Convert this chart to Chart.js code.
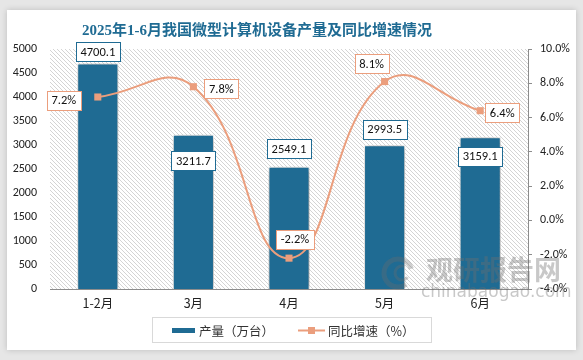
<!DOCTYPE html>
<html>
<head>
<meta charset="utf-8">
<script src="https://cdn.jsdelivr.net/npm/chart.js@4.4.1/dist/chart.umd.min.js"></script>
<style>
html,body{margin:0;padding:0;}
body{width:583px;height:360px;background:#e6e6e6;position:relative;overflow:hidden;}
#card{position:absolute;left:7px;top:10px;width:569px;height:340px;background:#fff;box-shadow:0 0 6px rgba(0,0,0,0.18);}
#c{position:absolute;left:0;top:0;}
</style>
</head>
<body>
<div id="card"></div>
<canvas id="c" width="583" height="360"></canvas>
<script>
// ---- data ----
const title = '2025年1-6月我国微型计算机设备产量及同比增速情况';
const categories = ['1-2月', '3月', '4月', '5月', '6月'];
const production = [4700.1, 3211.7, 2549.1, 2993.5, 3159.1];
const growth = [7.2, 7.8, -2.2, 8.1, 6.4];
const seriesNames = ['产量（万台）', '同比增速（%）'];

const BLUE = '#1f6b93';
const ORANGE = '#eb9e7d';
const FONT = "Carlito, 'Liberation Sans', Arial, sans-serif";
const CJK = "'Noto Sans CJK SC', 'Liberation Sans', sans-serif";

function hatchPattern(ctx) {
  const t = document.createElement('canvas');
  t.width = 4; t.height = 4;
  const g = t.getContext('2d');
  g.strokeStyle = '#d4d4d4';
  g.lineWidth = 1;
  g.beginPath();
  g.moveTo(-1, -1); g.lineTo(5, 5);
  g.moveTo(-1, 3); g.lineTo(1, 5);
  g.moveTo(3, -1); g.lineTo(5, 1);
  g.stroke();
  return ctx.createPattern(t, 'repeat');
}

function drawBox(ctx, text, cx, cy, color) {
  ctx.save();
  ctx.font = '12.5px ' + FONT;
  const w = Math.round(ctx.measureText(text).width + 9);
  const h = 19;
  const x = Math.round(cx - w / 2) + 0.5, y = Math.round(cy - h / 2) + 0.5;
  ctx.fillStyle = '#fff';
  ctx.fillRect(x, y, w, h);
  ctx.strokeStyle = color;
  ctx.lineWidth = 1;
  ctx.strokeRect(x, y, w, h);
  ctx.fillStyle = '#111';
  ctx.textAlign = 'center';
  ctx.textBaseline = 'middle';
  ctx.fillText(text, cx, cy + 1);
  ctx.restore();
}

const decor = {
  id: 'decor',
  beforeDatasetsDraw(chart) {
    const {ctx, chartArea: a} = chart;
    ctx.save();
    ctx.fillStyle = hatchPattern(ctx);
    ctx.fillRect(a.left, a.top, a.right - a.left, a.bottom - a.top);
    ctx.restore();
  },
  beforeDatasetDraw(chart, args) {
    const ctx = chart.ctx;
    ctx.save();
    if (args.index === 0) {
      ctx.shadowColor = 'rgba(0,0,0,0.45)';
      ctx.shadowBlur = 7;
      ctx.shadowOffsetX = 1;
      ctx.shadowOffsetY = 1;
    }
  },
  afterDatasetDraw(chart) {
    chart.ctx.restore();
  },
  afterDatasetsDraw(chart, args, opts) {
    const ctx = chart.ctx;
    const bars = chart.getDatasetMeta(0).data;
    bars.forEach((el, i) => {
      drawBox(ctx, production[i].toFixed(1), el.x, el.y + opts.barDy[i], BLUE);
    });
    const pts = chart.getDatasetMeta(1).data;
    pts.forEach((el, i) => {
      drawBox(ctx, growth[i].toFixed(1) + '%', el.x + opts.lineD[i][0], el.y + opts.lineD[i][1], ORANGE);
    });
  },
  afterDraw(chart) {
    const ctx = chart.ctx;
    ctx.save();
    // watermark
    ctx.fillStyle = 'rgba(110,110,110,0.38)';
    ctx.font = "bold 27px 'Noto Sans CJK SC', sans-serif";
    ctx.textBaseline = 'alphabetic';
    ctx.textAlign = 'left';
    ctx.fillText('观研报告网', 426, 280);
    ctx.font = "17px 'DejaVu Sans', sans-serif";
    ctx.fillText('chinabaogao.com', 421, 297);
    ctx.strokeStyle = 'rgba(110,110,110,0.33)';
    ctx.lineWidth = 5;
    ctx.beginPath(); ctx.arc(398, 273, 14, Math.PI * 0.3, Math.PI * 1.9); ctx.stroke();
    ctx.lineWidth = 3;
    ctx.beginPath(); ctx.arc(402, 273, 7, Math.PI * 0.2, Math.PI * 1.6); ctx.stroke();
    // title
    ctx.fillStyle = BLUE;
    ctx.font = "bold 15px 'Liberation Serif', 'Noto Sans CJK SC', serif";
    ctx.textAlign = 'center';
    ctx.textBaseline = 'middle';
    ctx.fillText(title, 257, 31);
    // legend
    ctx.strokeStyle = '#d9d9d9';
    ctx.lineWidth = 1;
    ctx.strokeRect(152.5, 317.5, 279, 25);
    ctx.fillStyle = BLUE;
    ctx.fillRect(172, 328, 23, 5);
    ctx.font = '12.5px ' + CJK;
    ctx.fillStyle = '#333';
    ctx.textAlign = 'left';
    ctx.fillText(seriesNames[0], 199, 331);
    ctx.strokeStyle = ORANGE;
    ctx.lineWidth = 2;
    ctx.beginPath(); ctx.moveTo(298, 330.5); ctx.lineTo(325, 330.5); ctx.stroke();
    ctx.fillStyle = ORANGE;
    ctx.fillRect(308, 327, 7, 7);
    ctx.fillStyle = '#333';
    ctx.fillText(seriesNames[1], 328, 331);
    ctx.restore();
  }
};

new Chart(document.getElementById('c'), {
  data: {
    labels: categories,
    datasets: [
      {
        type: 'bar',
        label: seriesNames[0],
        data: production,
        yAxisID: 'y',
        backgroundColor: BLUE,
        borderColor: '#ffffff',
        borderWidth: 1,
        barPercentage: 0.86,
        categoryPercentage: 0.5,
        order: 2
      },
      {
        type: 'line',
        label: seriesNames[1],
        data: growth,
        yAxisID: 'y2',
        borderColor: ORANGE,
        borderWidth: 2,
        backgroundColor: ORANGE,
        pointStyle: 'rect',
        pointRadius: 5,
        pointBorderWidth: 0,
        tension: 0.45,
        order: 1
      }
    ]
  },
  options: {
    responsive: false,
    animation: false,
    layout: {padding: {top: 49, left: 0, right: 0, bottom: 0}},
    plugins: {
      legend: {display: false},
      title: {display: false},
      tooltip: {enabled: false},
      decor: {
        barDy: [-12, 26, -18, -16, 19],
        lineD: [[-34, 3], [28, 2], [6, -19], [-13, -18], [22, 2]]
      }
    },
    scales: {
      x: {
        grid: {display: false, drawTicks: false},
        border: {display: true, color: '#8c8c8c', width: 1},
        ticks: {color: '#222', font: {size: 12.5, family: CJK}, padding: 7},
        afterFit(s) { s.height = 71; }
      },
      y: {
        position: 'left',
        min: 0, max: 5000,
        grid: {display: false, drawTicks: false},
        border: {display: false},
        ticks: {stepSize: 500, color: '#222', font: {size: 12, family: FONT}, padding: 13,
          callback: v => String(v)},
        afterFit(s) { s.width = 50; }
      },
      y2: {
        position: 'right',
        min: -4, max: 10,
        grid: {display: true, drawOnChartArea: false, tickLength: 4, color: '#8c8c8c'},
        border: {display: true, color: '#8c8c8c', width: 1},
        ticks: {stepSize: 2, color: '#222', font: {size: 12, family: FONT}, padding: 8,
          callback: v => v.toFixed(1) + '%'},
        afterFit(s) { s.width = 55; }
      }
    }
  },
  plugins: [decor]
});
</script>
</body>
</html>
